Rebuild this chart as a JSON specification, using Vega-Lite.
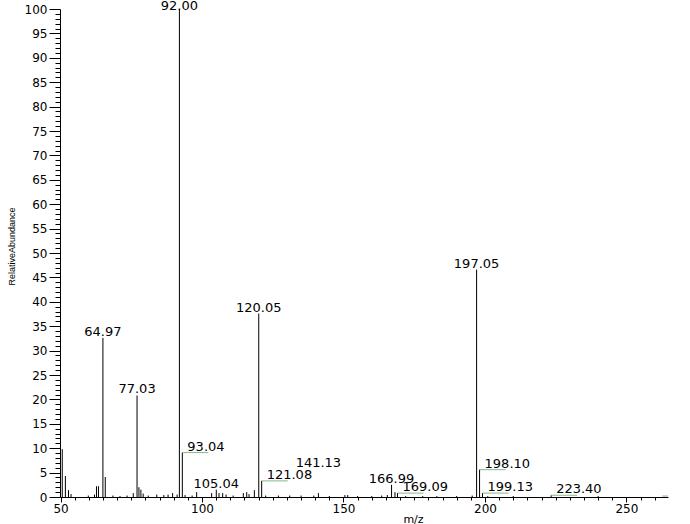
{
  "$schema": "https://vega.github.io/schema/vega-lite/v6.json",
  "width": 608,
  "height": 488,
  "autosize": "none",
  "padding": {"left": 60, "top": 9, "right": 22, "bottom": 27},
  "background": "white",
  "config": {"view": {"stroke": null}, "axis": {"grid": false, "domainColor": "black", "tickColor": "black", "labelColor": "black", "titleColor": "black"}},
  "datasets": {
    "peaks": [
      {"mz": 50.6, "intensity": 9.8}, {"mz": 51.7, "intensity": 4.3}, {"mz": 52.8, "intensity": 1.4}, {"mz": 53.7, "intensity": 0.6},
      {"mz": 59.8, "intensity": 0.3}, {"mz": 62.0, "intensity": 0.5}, {"mz": 62.7, "intensity": 2.2}, {"mz": 63.4, "intensity": 2.2},
      {"mz": 64.97, "intensity": 32.6}, {"mz": 65.8, "intensity": 4.1}, {"mz": 68.5, "intensity": 0.3}, {"mz": 71.0, "intensity": 0.2},
      {"mz": 73.5, "intensity": 0.3}, {"mz": 75.7, "intensity": 0.8}, {"mz": 77.03, "intensity": 20.8}, {"mz": 77.7, "intensity": 2.0},
      {"mz": 78.4, "intensity": 1.5}, {"mz": 79.2, "intensity": 0.7}, {"mz": 81.0, "intensity": 0.3}, {"mz": 84.0, "intensity": 0.5},
      {"mz": 86.5, "intensity": 0.4}, {"mz": 88.0, "intensity": 0.5}, {"mz": 89.6, "intensity": 0.8}, {"mz": 91.2, "intensity": 0.5},
      {"mz": 92.0, "intensity": 100}, {"mz": 93.04, "intensity": 9.1}, {"mz": 94.0, "intensity": 0.4}, {"mz": 96.5, "intensity": 0.3},
      {"mz": 98.1, "intensity": 1.0}, {"mz": 103.4, "intensity": 0.8}, {"mz": 105.04, "intensity": 1.5}, {"mz": 106.0, "intensity": 0.8},
      {"mz": 107.3, "intensity": 0.8}, {"mz": 108.5, "intensity": 0.5}, {"mz": 111.0, "intensity": 0.3}, {"mz": 114.6, "intensity": 0.8},
      {"mz": 115.8, "intensity": 1.0}, {"mz": 116.6, "intensity": 0.6}, {"mz": 118.5, "intensity": 1.4}, {"mz": 120.05, "intensity": 37.6},
      {"mz": 121.08, "intensity": 3.3}, {"mz": 122.5, "intensity": 0.3}, {"mz": 127.0, "intensity": 0.3}, {"mz": 131.0, "intensity": 0.3},
      {"mz": 135.0, "intensity": 0.3}, {"mz": 139.5, "intensity": 0.3}, {"mz": 141.13, "intensity": 0.8}, {"mz": 145.0, "intensity": 0.2},
      {"mz": 150.5, "intensity": 0.4}, {"mz": 151.5, "intensity": 0.4}, {"mz": 155.0, "intensity": 0.2}, {"mz": 160.0, "intensity": 0.2},
      {"mz": 163.5, "intensity": 0.3}, {"mz": 165.5, "intensity": 0.4}, {"mz": 166.99, "intensity": 2.5}, {"mz": 168.2, "intensity": 1.0},
      {"mz": 169.09, "intensity": 0.8}, {"mz": 172.0, "intensity": 0.2}, {"mz": 178.0, "intensity": 0.2}, {"mz": 183.0, "intensity": 0.2},
      {"mz": 190.0, "intensity": 0.2}, {"mz": 195.5, "intensity": 0.3}, {"mz": 197.05, "intensity": 46.6}, {"mz": 198.1, "intensity": 5.6},
      {"mz": 199.13, "intensity": 0.8}, {"mz": 201.0, "intensity": 0.2}, {"mz": 210.0, "intensity": 0.2}, {"mz": 223.4, "intensity": 0.35},
      {"mz": 240.0, "intensity": 0.2}
    ],
    "centered": [
      {"mz": 64.97, "intensity": 32.6}, {"mz": 77.03, "intensity": 20.8},
      {"mz": 105.04, "intensity": 1.5}, {"mz": 120.05, "intensity": 37.6}, {"mz": 166.99, "intensity": 2.5},
      {"mz": 197.05, "intensity": 46.6}
    ],
    "basepeak": [
      {"mz": 92.0, "intensity": 100}
    ],
    "raised": [
      {"mz": 141.13, "intensity": 0.8}
    ],
    "flagged": [
      {"mz": 93.04, "intensity": 9.1}, {"mz": 121.08, "intensity": 3.3}, {"mz": 169.09, "intensity": 0.8},
      {"mz": 198.1, "intensity": 5.6}, {"mz": 199.13, "intensity": 0.8}, {"mz": 223.4, "intensity": 0.35},
      {"mz": 262.7, "intensity": 0.2}
    ]
  },
  "encoding": {
    "x": {"field": "mz", "type": "quantitative", "scale": {"domain": [49.8, 264.7], "nice": false, "zero": false},
      "axis": {"title": "m/z", "titleFont": "DejaVu Sans", "titleFontSize": 11, "titleFontWeight": "normal", "titleX": 353, "titleY": 22, "titleBaseline": "middle",
        "values": [50,55,60,65,70,75,80,85,90,95,100,105,110,115,120,125,130,135,140,145,150,155,160,165,170,175,180,185,190,195,200,205,210,215,220,225,230,235,240,245,250,255,260],
        "labelExpr": "datum.value % 50 === 0 ? datum.label : ''", "labelOverlap": false, "labelFlush": false,
        "labelFont": "DejaVu Sans", "labelFontSize": 12, "labelPadding": 1,
        "tickSize": {"condition": {"test": "datum.value % 50 === 0", "value": 5}, "value": 3}}},
    "y": {"field": "intensity", "type": "quantitative", "scale": {"domain": [0, 100], "nice": false},
      "axis": {"title": "RelativeAbundance", "titleFont": "Liberation Sans", "titleFontSize": 9, "titleFontWeight": "normal", "titleAngle": -90, "titleX": -49, "titleY": 237, "titleAlign": "center", "titleBaseline": "middle",
        "values": [0,1,2,3,4,5,6,7,8,9,10,11,12,13,14,15,16,17,18,19,20,21,22,23,24,25,26,27,28,29,30,31,32,33,34,35,36,37,38,39,40,41,42,43,44,45,46,47,48,49,50,51,52,53,54,55,56,57,58,59,60,61,62,63,64,65,66,67,68,69,70,71,72,73,74,75,76,77,78,79,80,81,82,83,84,85,86,87,88,89,90,91,92,93,94,95,96,97,98,99,100],
        "labelExpr": "datum.value % 5 === 0 ? datum.label : ''", "labelOverlap": false,
        "labelFont": "DejaVu Sans", "labelFontSize": 12, "labelPadding": 2,
        "tickSize": {"condition": {"test": "datum.value % 5 === 0", "value": 11}, "value": 5}}}
  },
  "layer": [
    {
      "data": {"name": "peaks"},
      "mark": {"type": "rule", "color": "black", "strokeWidth": 1, "clip": true},
      "encoding": {"y2": {"datum": 0}}
    },
    {
      "data": {"name": "centered"},
      "mark": {"type": "text", "font": "DejaVu Sans", "fontSize": 13, "align": "center", "baseline": "alphabetic", "dy": -2, "color": "black"},
      "encoding": {"text": {"field": "mz", "type": "quantitative", "format": ".2f"}}
    },
    {
      "data": {"name": "basepeak"},
      "mark": {"type": "text", "font": "DejaVu Sans", "fontSize": 13, "align": "center", "baseline": "alphabetic", "dy": 0.5, "color": "black"},
      "encoding": {"text": {"field": "mz", "type": "quantitative", "format": ".2f"}}
    },
    {
      "data": {"name": "raised"},
      "mark": {"type": "text", "font": "DejaVu Sans", "fontSize": 13, "align": "center", "baseline": "alphabetic", "dy": -26, "color": "black"},
      "encoding": {"text": {"field": "mz", "type": "quantitative", "format": ".2f"}}
    },
    {
      "data": {"name": "flagged"},
      "mark": {"type": "tick", "orient": "horizontal", "color": "#4f9a55", "thickness": 1, "size": 26, "xOffset": 13, "clip": true},
      "encoding": {}
    },
    {
      "data": {"name": "flagged"},
      "mark": {"type": "text", "font": "DejaVu Sans", "fontSize": 13, "align": "left", "baseline": "alphabetic", "dx": 5, "dy": -2, "color": "black", "clip": true},
      "encoding": {"text": {"field": "mz", "type": "quantitative", "format": ".2f"}}
    }
  ]
}
